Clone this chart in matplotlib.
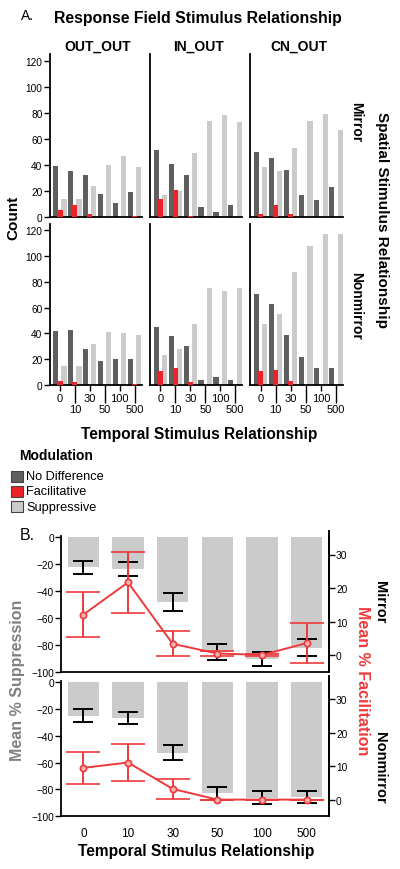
import matplotlib
matplotlib.use("Agg")
import matplotlib.pyplot as plt
from matplotlib.patches import Rectangle
import numpy as np

plt.rcParams['font.family'] = ['Liberation Sans', 'DejaVu Sans']

# ---------------- data ----------------
delays = ['0', '10', '30', '50', '100', '500']
fields = ['OUT_OUT', 'IN_OUT', 'CN_OUT']
spatial = ['Mirror', 'Nonmirror']
modulations = ['No Difference', 'Facilitative', 'Suppressive']

# Panel A counts: [spatial][field] -> per delay
nodiff_mirror = {'OUT_OUT': [39, 35, 32, 18, 11, 19],
                 'IN_OUT': [51, 41, 32, 8, 4, 9],
                 'CN_OUT': [50, 45, 36, 17, 13, 23]}
facil_mirror = {'OUT_OUT': [5, 9, 2, 0, 0, 1],
                'IN_OUT': [14, 21, 1, 0, 0, 0],
                'CN_OUT': [2, 9, 2, 0, 0, 0]}
supp_mirror = {'OUT_OUT': [14, 14, 24, 40, 47, 38],
               'IN_OUT': [17, 20, 49, 74, 78, 73],
               'CN_OUT': [38, 35, 53, 74, 79, 67]}
nodiff_nonmirror = {'OUT_OUT': [42, 43, 28, 19, 20, 20],
                    'IN_OUT': [45, 38, 30, 4, 6, 4],
                    'CN_OUT': [71, 63, 39, 22, 13, 13]}
facil_nonmirror = {'OUT_OUT': [3, 2, 0, 0, 0, 1],
                   'IN_OUT': [11, 13, 2, 0, 0, 0],
                   'CN_OUT': [11, 12, 3, 0, 0, 0]}
supp_nonmirror = {'OUT_OUT': [15, 15, 32, 41, 40, 39],
                  'IN_OUT': [23, 28, 47, 75, 73, 75],
                  'CN_OUT': [47, 55, 88, 108, 117, 117]}

# Panel B: mean % suppression (+/- sem) and mean % facilitation (+/- sem)
supp_mean_mirror = [-22.5, -23.5, -48, -85, -90.5, -82]
supp_err_mirror = [5, 5, 6.6, 6, 5.3, 6.5]
fac_mean_mirror = [12.1, 21.7, 3.4, 0.5, 0.1, 3.6]
fac_err_mirror = [6.7, 9.0, 3.7, 0.7, 0.2, 6.0]
supp_mean_nonmirror = [-25, -27, -52.5, -83, -86.3, -85.3]
supp_err_nonmirror = [4.9, 4.6, 5.5, 5, 4.8, 4.5]
fac_mean_nonmirror = [9.5, 11.1, 3.2, 0.0, 0.0, 0.0]
fac_err_nonmirror = [4.8, 5.6, 3.0, 0.0, 0.0, 0.0]

# ---------------- styling ----------------
W, H = 400, 870
DARK = '#5f5f5f'
RED = '#ee2128'
LIGHT = '#cbcbcb'
RED_LINE = '#ee3a3a'
GREY_TXT = '#808080'

fig = plt.figure(figsize=(W / 100, H / 100), dpi=100)


def ax_px(x0, y0, x1, y1):
    return fig.add_axes([x0 / W, 1 - y1 / H, (x1 - x0) / W, (y1 - y0) / H])


def ftext(x, y, s, **kw):
    return fig.text(x / W, 1 - y / H, s, **kw)


x = np.arange(len(delays))
cols_x = [(49.5, 141.5), (150, 242), (250, 343)]
rows_y = [(55, 218), (225, 386)]
data_rows = [(nodiff_mirror, facil_mirror, supp_mirror),
             (nodiff_nonmirror, facil_nonmirror, supp_nonmirror)]

bw = 0.34
for r, (y0, y1) in enumerate(rows_y):
    nd, fa, su = data_rows[r]
    for c, (x0, x1) in enumerate(cols_x):
        ax = ax_px(x0, y0, x1, y1)
        f = fields[c]
        ax.bar(x - 0.29, nd[f], width=bw, color=DARK, zorder=2)
        ax.bar(x + 0.27, su[f], width=bw, color=LIGHT, zorder=2)
        ax.bar(x, fa[f], width=bw, color=RED, zorder=3)
        ax.set_xlim(-0.7, 5.45)
        ax.set_ylim(0, 125)
        for s in ['top', 'right']:
            ax.spines[s].set_visible(False)
        for s in ['left', 'bottom']:
            ax.spines[s].set_linewidth(1.3)
        if c == 0:
            ax.set_yticks(np.arange(0, 121, 20))
            ax.tick_params(axis='y', labelsize=7.3, length=4, width=1, pad=1)
        else:
            ax.set_yticks([])
        if r == 1:
            ax.set_xticks(x[::2])
            ax.set_xticklabels(delays[::2])
            ax.set_xticks(x[1::2], minor=True)
            ax.set_xticklabels(delays[1::2], minor=True)
            ax.tick_params(axis='x', which='major', labelsize=8, length=4, width=1, pad=1.5)
            ax.tick_params(axis='x', which='minor', labelsize=8, length=13, width=1, pad=0.5)
        else:
            ax.set_xticks([])
        if r == 0:
            ftext(sum(cols_x[c]) / 2 + 2, 47, f, ha='center', va='center',
                  fontsize=10, fontweight='bold')

ftext(27, 16, 'A.', ha='center', va='center', fontsize=10)
ftext(198, 18.5, 'Response Field Stimulus Relationship', ha='center', va='center',
      fontsize=11.4, fontweight='bold')
ftext(13, 218, 'Count', ha='center', va='center', rotation=90,
      fontsize=11, fontweight='bold')
ftext(356, 122, 'Mirror', ha='center', va='center', rotation=-90,
      fontsize=10, fontweight='bold')
ftext(356, 306, 'Nonmirror', ha='center', va='center', rotation=-90,
      fontsize=10, fontweight='bold')
ftext(382, 220, 'Spatial Stimulus Relationship', ha='center', va='center',
      rotation=-90, fontsize=11, fontweight='bold')
ftext(199, 434, 'Temporal Stimulus Relationship', ha='center', va='center',
      fontsize=11.2, fontweight='bold')

# legend (manual)
ftext(19, 456, 'Modulation', ha='left', va='center', fontsize=10, fontweight='bold')
for i, (lab, colr) in enumerate(zip(modulations, [DARK, RED, LIGHT])):
    yc = 477.5 + 15 * i
    fig.patches.append(Rectangle((11 / W, 1 - (yc + 5.8) / H), 11.5 / W, 11.5 / H,
                                 transform=fig.transFigure, facecolor=colr,
                                 edgecolor='#444444', linewidth=0.8))
    ftext(26, yc, lab, ha='left', va='center', fontsize=9.2)

# ---------------- Panel B ----------------
ftext(27, 535.5, 'B.', ha='center', va='center', fontsize=11.5)
b_rows = [(532, 673, supp_mean_mirror, supp_err_mirror, fac_mean_mirror, fac_err_mirror, 'Mirror', 602),
          (677, 817.3, supp_mean_nonmirror, supp_err_nonmirror, fac_mean_nonmirror, fac_err_nonmirror,
           'Nonmirror', 768)]
for i, (y0, y1, sm, se, fm, fe, lab, ly) in enumerate(b_rows):
    ax = ax_px(61, y0, 329, y1)
    ax.bar(x, sm, width=0.7, color=LIGHT, zorder=1)
    ax.errorbar(x, sm, yerr=se, fmt='none', ecolor='black', elinewidth=1.4,
                capsize=7.5, capthick=1.4, zorder=3)
    ax.set_xlim(-0.5, 5.5)
    ax.set_ylim(-100, 4.5)
    ax.set_yticks(np.arange(-100, 1, 20))
    ax.tick_params(axis='y', labelsize=7.3, length=4, width=1, pad=1)
    ax.spines['top'].set_visible(False)
    ax.spines['left'].set_bounds(-100, 1)
    for s in ['left', 'bottom', 'right']:
        ax.spines[s].set_linewidth(1.3)
    if i == 1:
        ax.set_xticks(x)
        ax.set_xticklabels(delays)
        ax.tick_params(axis='x', labelsize=8.5, length=0, pad=8)
    else:
        ax.set_xticks([])
    ax2 = ax.twinx()
    ax2.set_ylim(-5, 37)
    ax2.errorbar(x, fm, yerr=fe, fmt='o-', color=RED_LINE, ecolor=RED_LINE,
                 elinewidth=1.4, capsize=12.5, capthick=1.4, lw=1.4,
                 markersize=4.5, markerfacecolor='#f6b0b0', markeredgecolor=RED_LINE,
                 markeredgewidth=1.2, zorder=4)
    ax2.set_yticks([0, 10, 20, 30])
    ax2.tick_params(axis='y', labelsize=7.3, length=4, width=1, pad=1)
    ax2.spines['top'].set_visible(False)
    ax2.spines['right'].set_linewidth(1.3)
    ax2.spines['left'].set_visible(False)
    ax2.spines['bottom'].set_visible(False)
    ftext(380, ly, lab, ha='center', va='center', rotation=-90,
          fontsize=10.5, fontweight='bold')

ftext(18, 680, 'Mean % Suppression', ha='center', va='center', rotation=90,
      fontsize=11.5, fontweight='bold', color=GREY_TXT)
ftext(362, 681, 'Mean % Facilitation', ha='center', va='center', rotation=-90,
      fontsize=11.5, fontweight='bold', color=RED_LINE)
ftext(196, 852, 'Temporal Stimulus Relationship', ha='center', va='center',
      fontsize=11.2, fontweight='bold')

fig.savefig('out.png', dpi=100)
